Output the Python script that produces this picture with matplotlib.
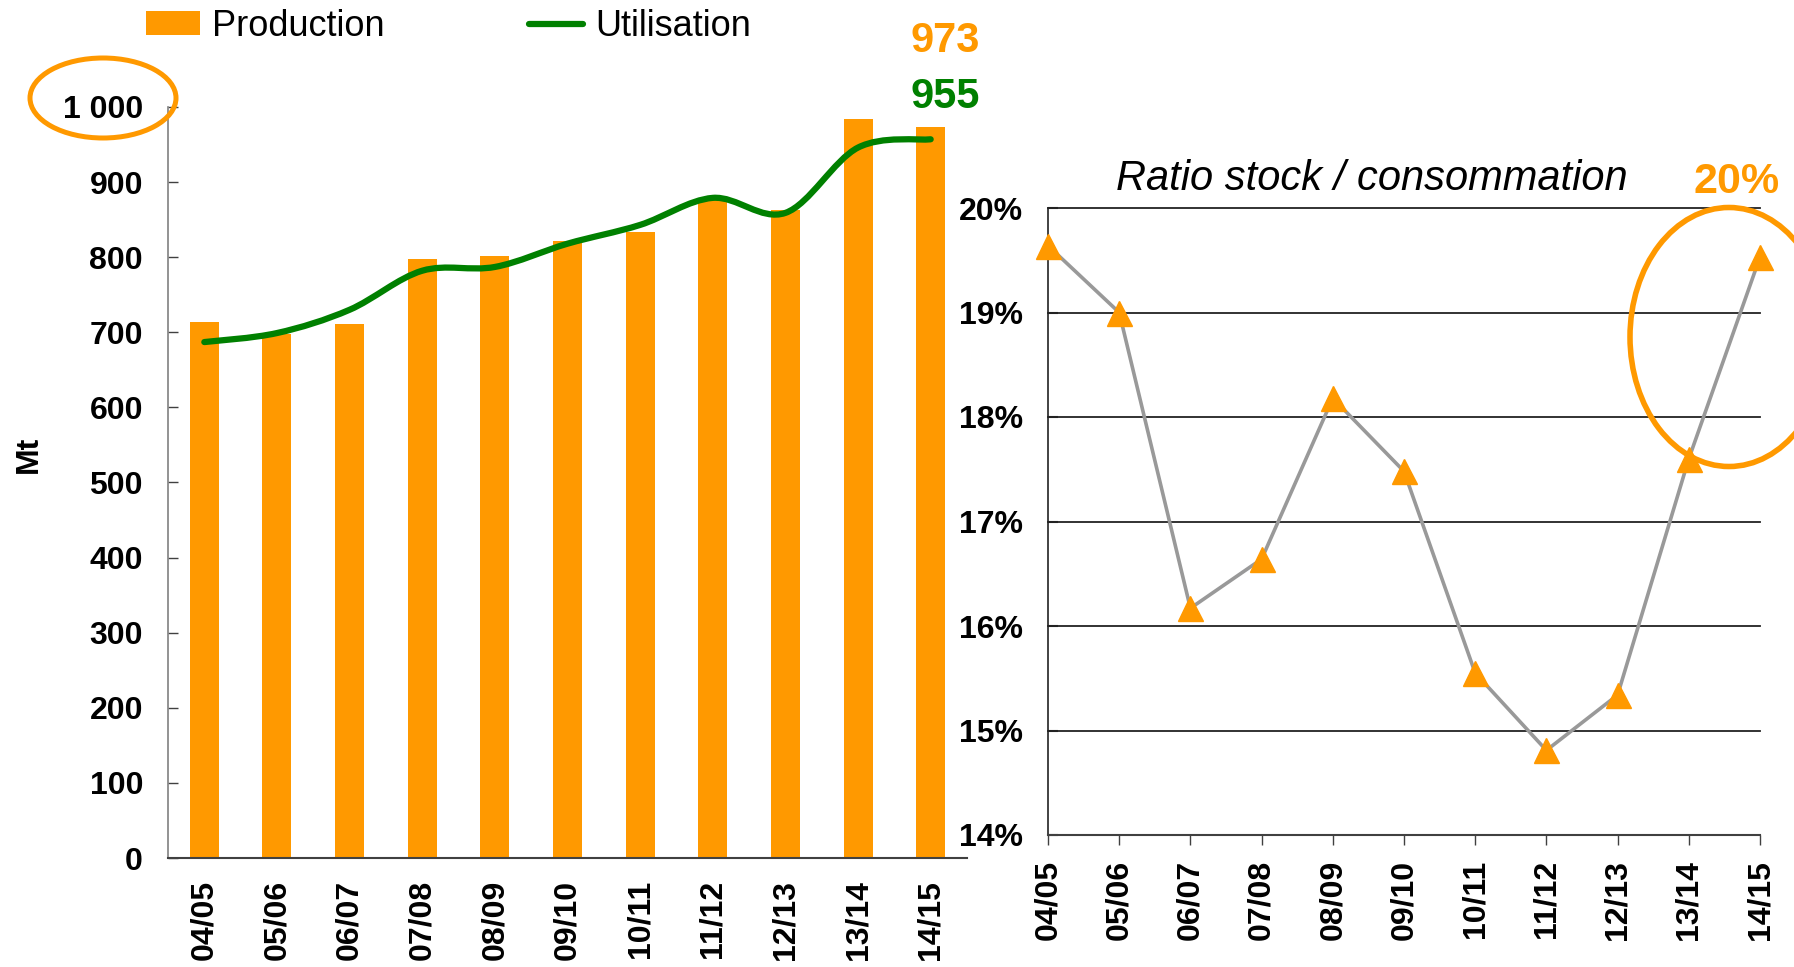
import matplotlib.pyplot as plt
from matplotlib.patches import Ellipse, PathPatch
from matplotlib.path import Path
from matplotlib.ticker import FuncFormatter
import numpy as np

plt.rcParams['font.family'] = ['Liberation Sans', 'DejaVu Sans']

# --------------------
# Data
# --------------------
seasons = ["04/05", "05/06", "06/07", "07/08", "08/09", "09/10",
           "10/11", "11/12", "12/13", "13/14", "14/15"]
production = [714, 698, 711, 798, 801, 821, 833, 876, 863, 984, 973]
utilisation = [687, 699, 730, 782, 787, 818, 843, 879, 859, 946, 957]
ratio_stock = [19.64, 19.00, 16.17, 16.64, 18.18, 17.48, 15.55, 14.81, 15.34, 17.60, 19.53]

ORANGE = "#FF9900"
GREEN = "#008000"
W, H = 1794, 967


def smooth_path(xs, ys):
    # Excel-like smoothed line: Catmull-Rom segments written as cubic Beziers
    pts = np.column_stack([xs, ys]).astype(float)
    ext = np.vstack([pts[0], pts, pts[-1]])
    verts = [pts[0]]
    codes = [Path.MOVETO]
    for i in range(len(pts) - 1):
        p0, p1, p2, p3 = ext[i], ext[i + 1], ext[i + 2], ext[i + 3]
        verts += [p1 + (p2 - p0) / 6, p2 - (p3 - p1) / 6, p2]
        codes += [Path.CURVE4] * 3
    return Path(verts, codes)


fig = plt.figure(figsize=(W / 100, H / 100), dpi=100)

# --------------------
# Left: production / utilisation
# --------------------
ax1 = fig.add_axes([168 / W, 1 - 858 / H, (967 - 168) / W, (858 - 107) / H])
x = np.arange(len(seasons))
bars = ax1.bar(x, production, width=0.4, color=ORANGE, label="Production", zorder=2)
ax1.add_patch(PathPatch(smooth_path(x, utilisation), fill=False, ec=GREEN, lw=4.5,
                        capstyle="round", joinstyle="round", zorder=3))
line, = ax1.plot([], [], color=GREEN, lw=4.5, solid_capstyle="round", label="Utilisation")

ax1.set_xlim(-0.5, 10.5)
ax1.set_ylim(0, 1000)
ax1.set_yticks(np.arange(0, 1001, 100))
ax1.yaxis.set_major_formatter(FuncFormatter(lambda v, p: f"{int(v):,}".replace(",", " ")))
ax1.set_xticks(x)
ax1.set_xticklabels(seasons, rotation=90)
for s in ["top", "right"]:
    ax1.spines[s].set_visible(False)
ax1.spines["left"].set_color("#808080")
ax1.spines["left"].set_linewidth(1.2)
ax1.spines["bottom"].set_color("#404040")
ax1.spines["bottom"].set_linewidth(1.5)
ax1.tick_params(axis="y", direction="in", length=7, width=1, color="#404040",
                labelsize=23, pad=18)
ax1.tick_params(axis="x", length=0, labelsize=23, pad=16)
for lab in ax1.get_xticklabels() + ax1.get_yticklabels():
    lab.set_fontweight("bold")
ax1.set_ylabel("Mt", fontsize=23, fontweight="bold")
ax1.yaxis.set_label_coords(-0.155, 0.538)

fig.legend(handles=[bars, line], loc="upper left", bbox_to_anchor=(146 / W, 1 - 9 / H),
           ncol=2, frameon=False, fontsize=26, handlelength=1.5, handleheight=0.64,
           handletextpad=0.33, columnspacing=4.0, borderpad=0, borderaxespad=0)

fig.text(945 / W, 1 - 41 / H, "973", color=ORANGE, fontsize=30, fontweight="bold",
         ha="center", va="center")
fig.text(945 / W, 1 - 97 / H, "955", color=GREEN, fontsize=30, fontweight="bold",
         ha="center", va="center")

fig.add_artist(Ellipse((103 / W, 1 - 98 / H), 146 / W, 80 / H, transform=fig.transFigure,
                       fill=False, ec=ORANGE, lw=3.6))

# --------------------
# Right: stock / consumption ratio
# --------------------
ax2 = fig.add_axes([1048 / W, 1 - 835 / H, (1760 - 1048) / W, (835 - 208) / H])
yticks = np.arange(14, 21, 1)
for t in yticks[1:]:
    ax2.axhline(t, color="#222222", lw=1.3, clip_on=False, zorder=1)
ax2.plot(x, ratio_stock, color="#999999", lw=2.6, marker="^", ms=18,
         mfc=ORANGE, mec=ORANGE, clip_on=False, zorder=3)
ax2.set_xlim(0, 10)
ax2.set_ylim(14, 20)
ax2.set_yticks(yticks)
ax2.yaxis.set_major_formatter(FuncFormatter(lambda v, p: f"{int(round(v))}%"))
ax2.set_xticks(x)
ax2.set_xticklabels(seasons, rotation=90)
for s in ["top", "right"]:
    ax2.spines[s].set_visible(False)
ax2.spines["left"].set_color("#222222")
ax2.spines["left"].set_linewidth(1.2)
ax2.spines["bottom"].set_color("#404040")
ax2.spines["bottom"].set_linewidth(1.5)
ax2.tick_params(axis="y", direction="in", length=7, width=1.5, color="#222222",
                labelsize=23, pad=18)
ax2.tick_params(axis="x", direction="out", length=7, width=1, color="#404040",
                labelsize=23, pad=11)
for lab in ax2.get_xticklabels() + ax2.get_yticklabels():
    lab.set_fontweight("bold")

fig.text(1372 / W, 1 - 179 / H, "Ratio stock / consommation", fontsize=30,
         style="italic", ha="center", va="center")
fig.text(1737 / W, 1 - 182 / H, "20%", color=ORANGE, fontsize=31, fontweight="bold",
         ha="center", va="center")
fig.add_artist(Ellipse((1729 / W, 1 - 337 / H), 198 / W, 259 / H, transform=fig.transFigure,
                       fill=False, ec=ORANGE, lw=4))

fig.savefig("out.png", dpi=100)
